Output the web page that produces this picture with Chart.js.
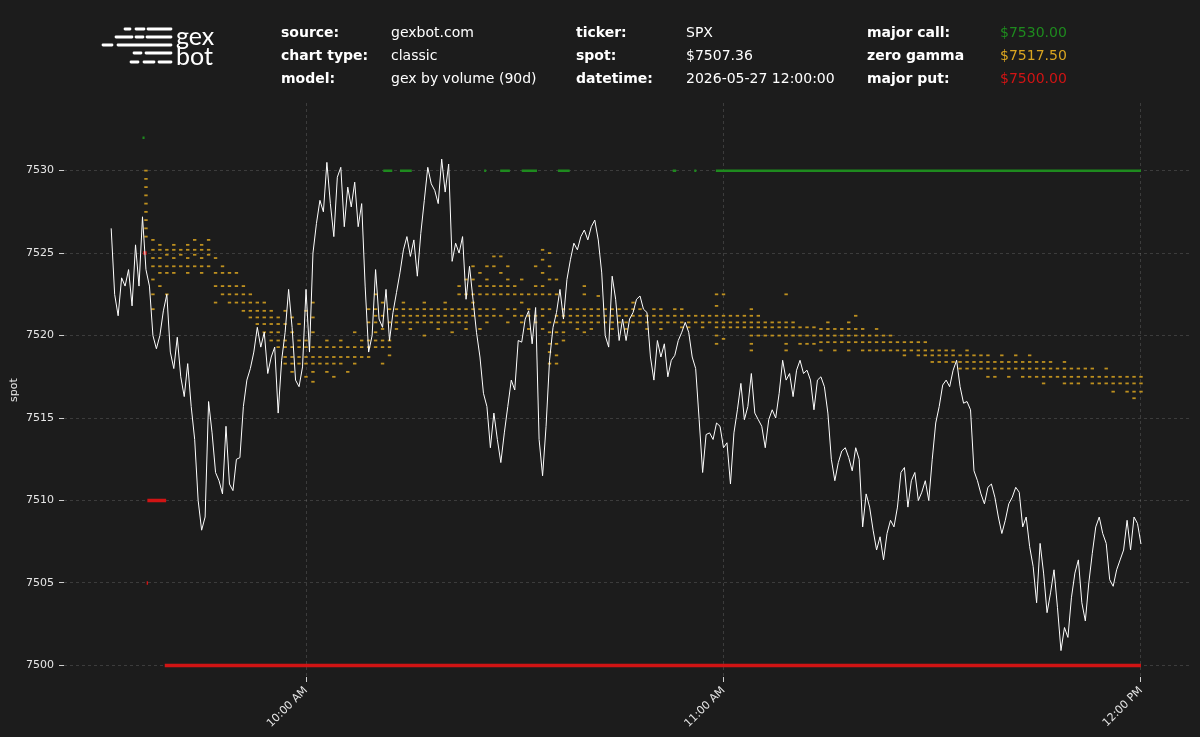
<!DOCTYPE html>
<html>
<head>
<meta charset="utf-8">
<title>SPX gex chart</title>
<script src="https://cdn.jsdelivr.net/npm/chart.js@4.4.1/dist/chart.umd.min.js"></script>
<style>
  html, body { margin: 0; padding: 0; background: #1c1c1c; }
  #wrap { position: relative; width: 1200px; height: 737px; background: #1c1c1c; overflow: hidden; }
  #chart { position: absolute; left: 0; top: 0; }
  #header { position: absolute; left: 0; top: 0; }
</style>
</head>
<body>
<div id="wrap">
  <canvas id="chart" width="1200" height="737"></canvas>
  <svg id="header" width="1200" height="100" xmlns="http://www.w3.org/2000/svg">
    <g stroke="#ffffff" stroke-width="2.8" stroke-linecap="round">
      <line x1="125" y1="29" x2="130" y2="29"/><line x1="136" y1="29" x2="144" y2="29"/><line x1="148" y1="29" x2="171" y2="29"/>
      <line x1="116" y1="37" x2="132" y2="37"/><line x1="136" y1="37" x2="143" y2="37"/><line x1="147" y1="37" x2="171" y2="37"/>
      <line x1="103" y1="45" x2="112" y2="45"/><line x1="118" y1="45" x2="171" y2="45"/>
      <line x1="134" y1="53" x2="141" y2="53"/><line x1="146" y1="53" x2="171" y2="53"/>
      <line x1="131" y1="62" x2="138" y2="62"/><line x1="144" y1="62" x2="154" y2="62"/><line x1="159" y1="62" x2="171" y2="62"/>
    </g>
    <g fill="#ffffff" font-family="Lato, 'DejaVu Sans', sans-serif" font-weight="normal" font-size="25">
      <text x="176" y="45">gex</text>
      <text x="176" y="65">bot</text>
    </g>
    <g font-family="'DejaVu Sans', sans-serif" font-size="14" fill="#ffffff">
      <g font-weight="bold">
        <text x="281" y="36.5">source:</text>
        <text x="281" y="59.5">chart type:</text>
        <text x="281" y="82.5">model:</text>
        <text x="576" y="36.5">ticker:</text>
        <text x="576" y="59.5">spot:</text>
        <text x="576" y="82.5">datetime:</text>
        <text x="867" y="36.5">major call:</text>
        <text x="867" y="59.5">zero gamma</text>
        <text x="867" y="82.5">major put:</text>
      </g>
      <text x="391" y="36.5">gexbot.com</text>
      <text x="391" y="59.5">classic</text>
      <text x="391" y="82.5">gex by volume (90d)</text>
      <text x="686" y="36.5">SPX</text>
      <text x="686" y="59.5">$7507.36</text>
      <text x="686" y="82.5">2026-05-27 12:00:00</text>
      <text x="1000" y="36.5" fill="#1e8a1e">$7530.00</text>
      <text x="1000" y="59.5" fill="#daa520">$7517.50</text>
      <text x="1000" y="82.5" fill="#d01414">$7500.00</text>
    </g>
  </svg>
</div>
<script>
// time axis is in minutes after 9:30
const xTickMinutes = [30, 90, 150];
const xTickLabels = ['10:00 AM', '11:00 AM', '12:00 PM'];
const yTicks = [7500, 7505, 7510, 7515, 7520, 7525, 7530];

// spot, every 30 seconds from 9:32 to 12:00
const spotStart = 2;
const spotStep = 0.5;
const spotValues = [
  7526.5, 7522.5, 7521.2, 7523.5, 7523, 7524, 7521.8, 7525.5, 7523, 7527.2,
  7524, 7523, 7520, 7519.2, 7520, 7521.5, 7522.5, 7519, 7518, 7519.9,
  7517.5, 7516.3, 7518.3, 7515.7, 7513.7, 7510, 7508.2, 7509, 7516, 7514.1,
  7511.7, 7511.2, 7510.4, 7514.5, 7511, 7510.6, 7512.5, 7512.6, 7515.7, 7517.3,
  7518, 7519, 7520.5, 7519.3, 7520.2, 7517.7, 7518.7, 7519.3, 7515.3, 7518.5,
  7520.2, 7522.8, 7520.5, 7517.3, 7516.9, 7518.1, 7522.8, 7519, 7525, 7526.8,
  7528.2, 7527.5, 7530.5, 7528, 7526, 7529.6, 7530.2, 7526.6, 7529, 7527.8,
  7529.3, 7526.6, 7528, 7523, 7519, 7520, 7524, 7521, 7520.5, 7522.8,
  7519.7, 7521.4, 7522.6, 7523.8, 7525.2, 7526, 7524.8, 7525.8, 7523.6, 7526.2,
  7528.2, 7530.2, 7529.2, 7528.8, 7528, 7530.7, 7528.7, 7530.4, 7524.5, 7525.6,
  7525, 7526, 7522.2, 7524.2, 7522.2, 7520.2, 7518.7, 7516.5, 7515.7, 7513.2,
  7515.3, 7513.7, 7512.3, 7514.1, 7515.7, 7517.3, 7516.7, 7519.7, 7519.6, 7521,
  7521.5, 7519.5, 7521.7, 7513.7, 7511.5, 7514.5, 7518.5, 7520.5, 7521.4, 7522.8,
  7521, 7523.4, 7524.6, 7525.6, 7525.2, 7526, 7526.4, 7525.8, 7526.6, 7527,
  7525.8, 7523.8, 7520, 7519.3, 7523.6, 7522.2, 7519.7, 7521, 7519.7, 7521,
  7521.4, 7522.2, 7522.4, 7521.6, 7521.4, 7518.7, 7517.3, 7519.7, 7518.7, 7519.5,
  7517.5, 7518.5, 7518.8, 7519.7, 7520.2, 7520.8, 7520.2, 7518.7, 7518, 7514.9,
  7511.7, 7514, 7514.1, 7513.7, 7514.7, 7514.5, 7513.2, 7513.5, 7511, 7514.1,
  7515.5, 7517.1, 7514.9, 7515.7, 7517.7, 7515.3, 7514.9, 7514.5, 7513.2, 7514.9,
  7515.5, 7515, 7516.5, 7518.5, 7517.3, 7517.7, 7516.3, 7517.9, 7518.5, 7517.7,
  7517.9, 7517.3, 7515.5, 7517.3, 7517.5, 7516.9, 7515.3, 7512.5, 7511.2, 7512.3,
  7513, 7513.2, 7512.6, 7511.8, 7513.2, 7512.5, 7508.4, 7510.4, 7509.6, 7508.2,
  7507, 7507.8, 7506.4, 7508, 7508.8, 7508.4, 7509.6, 7511.7, 7512, 7509.6,
  7511.2, 7511.7, 7510, 7510.5, 7511.2, 7510, 7512.5, 7514.7, 7515.7, 7517,
  7517.3, 7516.9, 7517.9, 7518.5, 7516.9, 7515.9, 7516, 7515.5, 7511.8, 7511.2,
  7510.4, 7509.8, 7510.8, 7511, 7510.2, 7509, 7508, 7508.8, 7509.8, 7510.2,
  7510.8, 7510.5, 7508.4, 7509, 7507.2, 7506, 7503.8, 7507.4, 7505.6, 7503.2,
  7504.4, 7505.8, 7503.5, 7500.9, 7502.3, 7501.7, 7504.1, 7505.6, 7506.4, 7503.8,
  7502.7, 7505, 7506.8, 7508.4, 7509, 7508, 7507.4, 7505.2, 7504.8, 7505.8,
  7506.4, 7507, 7508.8, 7507, 7509, 7508.6, 7507.36
];

// zero gamma levels seen in each minute, from 9:37 to 12:00
const zgStart = 7;
const zgLevels = [
  [7530, 7529.5, 7529, 7528.5, 7528, 7527.5, 7527, 7526.5, 7526], // 9:37
  [7525.8, 7525.2, 7524.7, 7524.2, 7523.4, 7522.5, 7521.6],
  [7525.5, 7525.2, 7524.7, 7524.2, 7523.8, 7523],
  [7525.2, 7524.9, 7524.2, 7523.8, 7522.5],
  [7525.5, 7525.2, 7524.7, 7524.2, 7523.8],
  [7525.2, 7524.9, 7524.2],
  [7525.5, 7525.2, 7524.7, 7524.2, 7523.8],
  [7525.8, 7525.2, 7524.9, 7524.2],
  [7525.5, 7525.2, 7524.7, 7524.2, 7523.8],
  [7525.8, 7525.2, 7524.9, 7524.2],
  [7524.7, 7523.8, 7523, 7522], // 9:47
  [7524.2, 7523.8, 7523, 7522.5],
  [7523.8, 7523, 7522.5, 7522],
  [7523.8, 7523, 7522.5, 7522],
  [7523, 7522.5, 7522, 7521.5],
  [7522.5, 7522, 7521.5, 7521.1],
  [7522, 7521.5, 7521.1, 7520.7],
  [7522, 7521.5, 7521.1, 7520.7, 7520.2],
  [7521.5, 7521.1, 7520.7, 7520.2, 7519.7],
  [7521.1, 7520.7, 7520.2, 7519.7, 7519.3],
  [7521.5, 7520.7, 7519.7, 7519.3, 7518.7, 7518.3], // 9:57
  [7521.1, 7520.2, 7519.3, 7518.7, 7518.3, 7517.8],
  [7520.7, 7519.7, 7519.3, 7518.7, 7518.3],
  [7521.5, 7519.7, 7519.3, 7518.7, 7518.3, 7517.5],
  [7522, 7521.1, 7520.2, 7519.3, 7518.7, 7518.3, 7517.8, 7517.2],
  [7519.3, 7518.7, 7518.3],
  [7519.7, 7519.3, 7518.7, 7518.3, 7517.8],
  [7519.3, 7518.7, 7518.3, 7517.5],
  [7519.7, 7519.3, 7518.7, 7518.3],
  [7519.3, 7518.7, 7517.8],
  [7520.2, 7519.3, 7518.7, 7518.3], // 10:07
  [7519.7, 7519.3, 7518.7],
  [7521.6, 7520.8, 7519.7, 7519.3, 7518.7],
  [7522.5, 7521.6, 7521.2, 7520.8, 7520.2, 7519.7, 7519.3],
  [7522, 7521.2, 7520.4, 7519.7, 7519.3, 7518.3],
  [7521.6, 7520.8, 7519.7, 7519.3, 7518.8],
  [7521.6, 7521.2, 7520.8, 7520.4],
  [7522, 7521.6, 7521.2, 7520.8],
  [7521.6, 7521.2, 7520.8, 7520.4],
  [7521.6, 7521.2, 7520.8],
  [7522, 7521.6, 7521.2, 7520.8, 7520], // 10:17
  [7521.6, 7521.2, 7520.8],
  [7521.6, 7521.2, 7520.8, 7520.4],
  [7522, 7521.6, 7521.2, 7520.8],
  [7521.6, 7521.2, 7520.8, 7520.2],
  [7523, 7522.5, 7521.6, 7521.2, 7520.8],
  [7523.4, 7522.5, 7521.6, 7521.2, 7520.8, 7520.4],
  [7524.2, 7523.4, 7522.5, 7522, 7521.6, 7521.2],
  [7523.8, 7523, 7522.5, 7521.6, 7521.2, 7520.4],
  [7524.2, 7523.4, 7523, 7522.5, 7521.6, 7521.2, 7520.8],
  [7524.8, 7524.2, 7523, 7522.5, 7521.6, 7521.2], // 10:27
  [7524.8, 7523.8, 7523, 7522.5, 7521.2],
  [7524.2, 7523.4, 7523, 7522.5, 7521.6, 7520.8],
  [7523, 7522.5, 7521.6, 7521.2],
  [7523.4, 7522.5, 7522, 7521.2, 7520.8],
  [7522.5, 7521.6, 7521.2, 7520.4],
  [7524.2, 7523, 7522.5, 7521.2, 7520.8],
  [7525.2, 7524.6, 7523.8, 7523, 7522.5, 7521.6, 7521.2, 7520.4],
  [7525, 7524.2, 7523.4, 7522.5, 7521.6, 7520.8, 7520.2, 7519.5, 7519, 7518.3],
  [7523.4, 7522.5, 7521.2, 7520.8, 7520.2, 7519.5, 7518.8, 7518.3],
  [7521.6, 7521.2, 7520.8, 7520.2, 7519.7], // 10:37
  [7521.6, 7521.2, 7520.8],
  [7521.6, 7521.2, 7520.8, 7520.4],
  [7523, 7522.5, 7521.6, 7521.2, 7520.8, 7520.2],
  [7521.6, 7521.2, 7520.8, 7520.4],
  [7522.4, 7521.6, 7521.2, 7520.8],
  [7521.6, 7521.2, 7520.8],
  [7521.6, 7521.2, 7520.8, 7520.4],
  [7521.6, 7521.2, 7520.8],
  [7521.6, 7521.2, 7520.8, 7520.4],
  [7522, 7521.6, 7521.2, 7520.8], // 10:47
  [7521.6, 7521.2, 7520.8],
  [7521.2, 7520.8, 7520.4],
  [7521.6, 7521.2, 7520.8],
  [7521.6, 7521.2, 7520.8, 7520.4],
  [7521.2, 7520.8],
  [7521.6, 7521.2, 7520.8],
  [7521.6, 7521.2, 7520.8, 7520.5],
  [7521.2, 7520.8, 7520.5],
  [7521.2, 7520.8],
  [7521.2, 7520.8, 7520.5], // 10:57
  [7521.2, 7520.8],
  [7522.5, 7521.8, 7521.2, 7520.8, 7520.5, 7520, 7519.5],
  [7522.5, 7521.2, 7520.8, 7520.5, 7519.8],
  [7521.2, 7520.8, 7520.5],
  [7521.2, 7520.8, 7520.5],
  [7521.2, 7520.8, 7520.5],
  [7521.6, 7521.2, 7520.8, 7520.5, 7520, 7519.5, 7519.1],
  [7521.2, 7520.8, 7520.5, 7520],
  [7520.8, 7520.5, 7520],
  [7520.8, 7520.5, 7520], // 11:07
  [7520.8, 7520.5, 7520],
  [7522.5, 7520.8, 7520.5, 7520, 7519.5, 7519.1],
  [7520.8, 7520.5, 7520],
  [7520.5, 7520, 7519.5],
  [7520.5, 7520, 7519.5],
  [7520.5, 7520, 7519.5],
  [7520.4, 7520, 7519.6, 7519.1],
  [7520.8, 7520.4, 7520, 7519.6],
  [7520.4, 7520, 7519.6, 7519.1],
  [7520.4, 7520, 7519.6], // 11:17
  [7520.8, 7520.4, 7520, 7519.6, 7519.1],
  [7521.2, 7520.4, 7520, 7519.6],
  [7520.4, 7520, 7519.6, 7519.1],
  [7520, 7519.6, 7519.1],
  [7520.4, 7520, 7519.6, 7519.1],
  [7520, 7519.6, 7519.1],
  [7520, 7519.6, 7519.1],
  [7519.6, 7519.1],
  [7519.6, 7519.1, 7518.8],
  [7519.6, 7519.1], // 11:27
  [7519.6, 7519.1, 7518.8],
  [7519.6, 7519.1, 7518.8],
  [7519.1, 7518.8, 7518.4],
  [7519.1, 7518.8, 7518.4],
  [7519.1, 7518.8, 7518.4],
  [7519.1, 7518.8, 7518.4],
  [7518.8, 7518.4, 7518],
  [7519.1, 7518.8, 7518.4, 7518],
  [7518.8, 7518.4, 7518],
  [7518.8, 7518.4, 7518], // 11:37
  [7518.8, 7518.4, 7518, 7517.5],
  [7518.4, 7518, 7517.5],
  [7518.8, 7518.4, 7518],
  [7518.4, 7518, 7517.5],
  [7518.8, 7518.4, 7518],
  [7518.4, 7518, 7517.5],
  [7518.8, 7518.4, 7518, 7517.5],
  [7518.4, 7518, 7517.5],
  [7518.4, 7518, 7517.5, 7517.1],
  [7518.4, 7518, 7517.5], // 11:47
  [7518, 7517.5],
  [7518.4, 7518, 7517.5, 7517.1],
  [7518, 7517.5, 7517.1],
  [7518, 7517.5, 7517.1],
  [7518, 7517.5],
  [7518, 7517.5, 7517.1],
  [7517.5, 7517.1],
  [7518, 7517.5, 7517.1],
  [7517.5, 7517.1, 7516.6],
  [7517.5, 7517.1], // 11:57
  [7517.5, 7517.1, 7516.6],
  [7517.5, 7517.1, 7516.6, 7516.2],
  [7517.5, 7517.1, 7516.6] // 12:00
];

// major call / major put, as runs of a constant strike
const callFrom = [6.5, 41.1, 43.5, 55.6, 57.9, 61.0, 66.2, 82.7, 85.8, 88.9];
const callTo = [6.8, 42.4, 45.2, 55.9, 59.3, 63.2, 67.9, 83.2, 86.1, 150];
const callLevel = [7532, 7530, 7530, 7530, 7530, 7530, 7530, 7530, 7530, 7530];

const putFrom = [6.6, 7.1, 7.2, 9.7];
const putTo = [7.1, 7.3, 9.9, 150];
const putLevel = [7525, 7505, 7510, 7500];

const spotPoints = spotValues.map((v, i) => ({ x: spotStart + i * spotStep, y: v }));

const zgPoints = [];
zgLevels.forEach((levels, i) => {
    levels.forEach(v => zgPoints.push({ x: zgStart + i, y: v }));
});

const runsToPoints = (from, to, level) => {
    const pts = [];
    from.forEach((f, i) => {
        pts.push({ x: f, y: level[i] });
        pts.push({ x: to[i], y: level[i] });
        pts.push({ x: to[i], y: null });
    });
    return pts;
};

const gridColor = 'rgba(255,255,255,0.14)';
const textColor = '#e6e6e6';
const font = { family: "'DejaVu Sans', sans-serif", size: 11 };

new Chart(document.getElementById('chart'), {
    type: 'line',
    data: {
        datasets: [
            {
                label: 'spot',
                data: spotPoints,
                borderColor: '#ffffff',
                borderWidth: 1,
                pointRadius: 0,
                tension: 0,
                order: 0
            },
            {
                label: 'major call',
                data: runsToPoints(callFrom, callTo, callLevel),
                borderColor: '#1e8a1e',
                borderWidth: 2.5,
                pointRadius: 0,
                spanGaps: false,
                order: 1
            },
            {
                label: 'major put',
                data: runsToPoints(putFrom, putTo, putLevel),
                borderColor: '#d01414',
                borderWidth: 3.5,
                pointRadius: 0,
                spanGaps: false,
                order: 1
            },
            {
                label: 'zero gamma',
                data: zgPoints,
                showLine: false,
                pointStyle: 'line',
                pointRadius: 1.7,
                pointBorderWidth: 1.8,
                pointBorderColor: 'rgba(218,165,32,0.85)',
                pointBackgroundColor: 'rgba(218,165,32,0.85)',
                order: 2
            }
        ]
    },
    options: {
        responsive: false,
        animation: false,
        devicePixelRatio: 1,
        layout: { padding: { top: 103, right: 8, left: 0, bottom: 0 } },
        plugins: {
            legend: { display: false },
            tooltip: { enabled: false }
        },
        scales: {
            x: {
                type: 'linear',
                min: -4.78,
                max: 157.33,
                afterBuildTicks: (scale) => {
                    scale.ticks = xTickMinutes.map(v => ({ value: v }));
                },
                afterFit: (scale) => { scale.height = 60; },
                ticks: {
                    color: textColor,
                    font: font,
                    minRotation: 45,
                    maxRotation: 45,
                    padding: 2,
                    callback: (value) => xTickLabels[xTickMinutes.indexOf(value)]
                },
                grid: {
                    color: gridColor,
                    lineWidth: 1,
                    tickColor: '#cfcfcf',
                    tickLength: 5,
                    tickBorderDash: []
                },
                border: { display: false, dash: [3, 3] }
            },
            y: {
                type: 'linear',
                min: 7499.3,
                max: 7534.1,
                afterBuildTicks: (scale) => {
                    scale.ticks = yTicks.map(v => ({ value: v }));
                },
                afterFit: (scale) => { scale.width = 64; },
                ticks: {
                    color: textColor,
                    font: font,
                    padding: 5,
                    callback: (value) => String(value)
                },
                title: {
                    display: true,
                    text: 'spot',
                    color: textColor,
                    font: font,
                    padding: { top: 8, bottom: 0 }
                },
                grid: {
                    color: gridColor,
                    lineWidth: 1,
                    tickColor: '#cfcfcf',
                    tickLength: 5,
                    tickBorderDash: []
                },
                border: { display: false, dash: [3, 3] }
            }
        }
    }
});
</script>
</body>
</html>
